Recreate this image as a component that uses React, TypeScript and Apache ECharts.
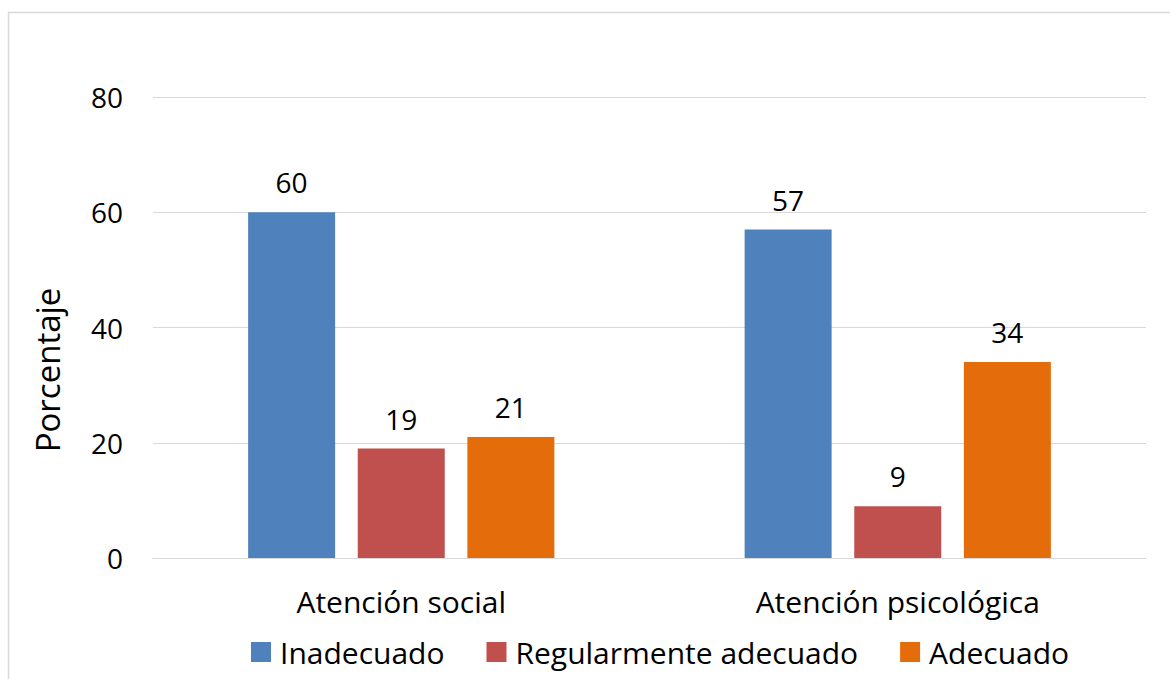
import React, { useEffect, useRef } from "react";
import * as echarts from "echarts";

const categories = ["Atención social", "Atención psicológica"];
const inadecuado = [60, 57];
const regular = [19, 9];
const adecuado = [21, 34];
const seriesNames = ["Inadecuado", "Regularmente adecuado", "Adecuado"];
const yTitle = "Porcentaje";

const FONT = "'Open Sans', sans-serif";

export default function App() {
  const ref = useRef<HTMLDivElement>(null);
  useEffect(() => {
    if (!ref.current) return;
    const chart = echarts.init(ref.current, undefined, { renderer: "svg" });
    const label = {
      show: true,
      position: "top" as const,
      distance: 16,
      color: "#000",
      fontSize: 28,
      fontFamily: FONT,
    };
    chart.setOption({
      animation: false,
      backgroundColor: "#fff",
      textStyle: { fontFamily: FONT },
      grid: { left: 153, right: 24, top: 97, bottom: 121, containLabel: false },
      legend: {
        data: seriesNames,
        bottom: 7,
        left: 246,
        icon: "rect",
        itemWidth: 20,
        itemHeight: 20,
        itemGap: 42,
        textStyle: { fontSize: 30, color: "#000", fontFamily: FONT, padding: [0, 0, 0, 4] },
      },
      xAxis: {
        type: "category",
        data: categories,
        axisTick: { show: false },
        axisLine: { show: true, lineStyle: { color: "#d9d9d9", width: 1 } },
        axisLabel: { color: "#000", fontSize: 30, margin: 28, fontFamily: FONT },
      },
      yAxis: {
        type: "value",
        min: 0,
        max: 80,
        interval: 20,
        axisLine: { show: false },
        axisTick: { show: false },
        axisLabel: { color: "#000", fontSize: 28, margin: 30, fontFamily: FONT },
        splitLine: { lineStyle: { color: "#d9d9d9", width: 1 } },
      },
      series: [
        {
          name: seriesNames[0],
          type: "bar",
          data: inadecuado,
          barWidth: 87,
          barGap: "26%",
          itemStyle: { color: "#4F81BD" },
          label,
        },
        {
          name: seriesNames[1],
          type: "bar",
          data: regular,
          barWidth: 87,
          barGap: "26%",
          itemStyle: { color: "#C0504D" },
          label,
        },
        {
          name: seriesNames[2],
          type: "bar",
          data: adecuado,
          barWidth: 87,
          barGap: "26%",
          itemStyle: { color: "#E46C0A" },
          label,
        },
      ],
      graphic: [
        {
          type: "rect",
          shape: { x: 8.5, y: 12.5, width: 1200, height: 700 },
          style: { fill: "none", stroke: "#d9d9d9", lineWidth: 1.5 },
          silent: true,
        },
        {
          type: "text",
          x: 47,
          y: 370,
          rotation: Math.PI / 2,
          style: {
            text: yTitle,
            fontSize: 33,
            fontFamily: FONT,
            fill: "#000",
            align: "center",
            verticalAlign: "middle",
          },
        },
      ],
    });
    return () => chart.dispose();
  }, []);
  return (
    <div
      ref={ref}
      style={{ position: "fixed", left: 0, top: 0, width: 1170, height: 679 }}
    />
  );
}
